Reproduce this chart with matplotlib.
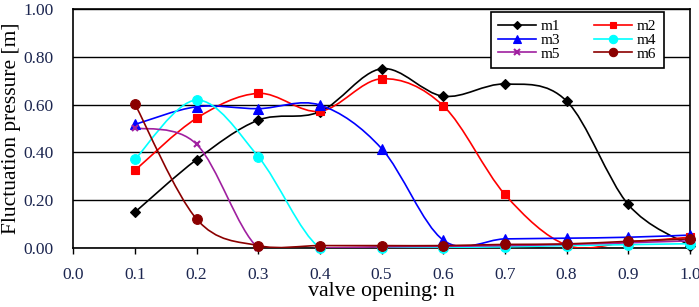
import matplotlib
matplotlib.use("Agg")
import matplotlib.pyplot as plt
import numpy as np
from matplotlib.path import Path
from matplotlib.patches import PathPatch
from matplotlib.lines import Line2D

# ── data ─────────────────────────────────────────────────────────────────────
opening = [0.1, 0.2, 0.3, 0.4, 0.5, 0.6, 0.7, 0.8, 0.9, 1.0]
m1 = [0.15, 0.37, 0.535, 0.57, 0.75, 0.635, 0.686, 0.615, 0.182, 0.01]
m2 = [0.325, 0.543, 0.647, 0.572, 0.708, 0.595, 0.224, 0.012, 0.025, 0.045]
m3 = [0.517, 0.591, 0.583, 0.598, 0.416, 0.033, 0.038, 0.041, 0.045, 0.054]
m4 = [0.371, 0.619, 0.382, 0.0, 0.0, 0.002, 0.005, 0.01, 0.014, 0.018]
m5 = [0.503, 0.434, 0.0, 0.0, 0.005, 0.007, 0.01, 0.015, 0.022, 0.03]
m6 = [0.602, 0.121, 0.01, 0.01, 0.01, 0.01, 0.015, 0.017, 0.028, 0.038]

series = [
    ("m1", m1, "black", "D", 5),
    ("m2", m2, "red", "s", 6),
    ("m3", m3, "blue", "^", 7),
    ("m4", m4, "cyan", "o", 7),
    ("m5", m5, "#a020a0", "x", 5),
    ("m6", m6, "#8b0000", "o", 7),
]

TICK_COLOR = "#1c2650"
plt.rcParams["font.family"] = ["Liberation Serif", "DejaVu Serif"]


def smooth_path(x, y):
    # Excel-like smoothed line: cubic Bezier segments through the points
    p = np.column_stack([x, y]).astype(float)
    n = len(p)
    verts = [p[0]]
    codes = [Path.MOVETO]
    for i in range(n - 1):
        p0 = p[i - 1] if i > 0 else p[i]
        p3 = p[i + 2] if i + 2 < n else p[i + 1]
        c1 = p[i] + (p[i + 1] - p0) / 6
        c2 = p[i + 1] - (p3 - p[i]) / 6
        verts += [c1, c2, p[i + 1]]
        codes += [Path.CURVE4] * 3
    return Path(verts, codes)


fig = plt.figure(figsize=(6.99, 3.07), dpi=100)
ax = fig.add_axes([0.1049, 0.1922, 0.882, 0.7785])

handles = {}
for name, vals, color, marker, ms in series:
    patch = PathPatch(smooth_path(opening, vals), facecolor="none",
                      edgecolor=color, linewidth=1.2, zorder=3)
    ax.add_patch(patch)
    mew = 1.5 if marker == "x" else 0.8
    ax.plot(opening, vals, linestyle="none", marker=marker, markersize=ms,
            color=color, markeredgecolor=color, markeredgewidth=mew,
            zorder=4, clip_on=False)
    handles[name] = Line2D([], [], color=color, linewidth=1.2, marker=marker,
                           markersize=ms - 1, markeredgewidth=mew, label=name)

ax.set_xlim(0.0, 1.0)
ax.set_ylim(0.0, 1.0)
ax.set_xticks(np.arange(0, 1.01, 0.1))
ax.set_xticklabels([f"{v:.1f}" for v in np.arange(0, 1.01, 0.1)])
ax.set_yticks(np.arange(0, 1.01, 0.2))
ax.set_yticklabels([f"{v:.2f}" for v in np.arange(0, 1.01, 0.2)])
ax.tick_params(axis="both", labelsize=12.5, labelcolor=TICK_COLOR,
               direction="out", length=4, width=1, color="black")
ax.tick_params(axis="y", length=0, pad=14)
ax.tick_params(axis="x", pad=10)
ax.yaxis.grid(True, color="black", linewidth=1.0)
ax.set_axisbelow(True)
for sp in ax.spines.values():
    sp.set_linewidth(1.2)
    sp.set_color("black")

ax.set_xlabel("valve opening: n", fontsize=15.8, labelpad=-1)
ax.set_ylabel("Fluctuation pressure [m]", fontsize=15.5, labelpad=2)

order = ["m1", "m3", "m5", "m2", "m4", "m6"]
leg = ax.legend(handles=[handles[k] for k in order], ncol=2,
                loc="upper right", bbox_to_anchor=(0.958, 0.987),
                fontsize=11, frameon=True, fancybox=False,
                edgecolor="black", framealpha=1,
                handlelength=2.5, handletextpad=0.3, columnspacing=2.2,
                labelspacing=0.0, borderpad=0.5, borderaxespad=0)
leg.get_frame().set_linewidth(1.2)
leg.set_zorder(10)

fig.savefig("out.png", dpi=100)
